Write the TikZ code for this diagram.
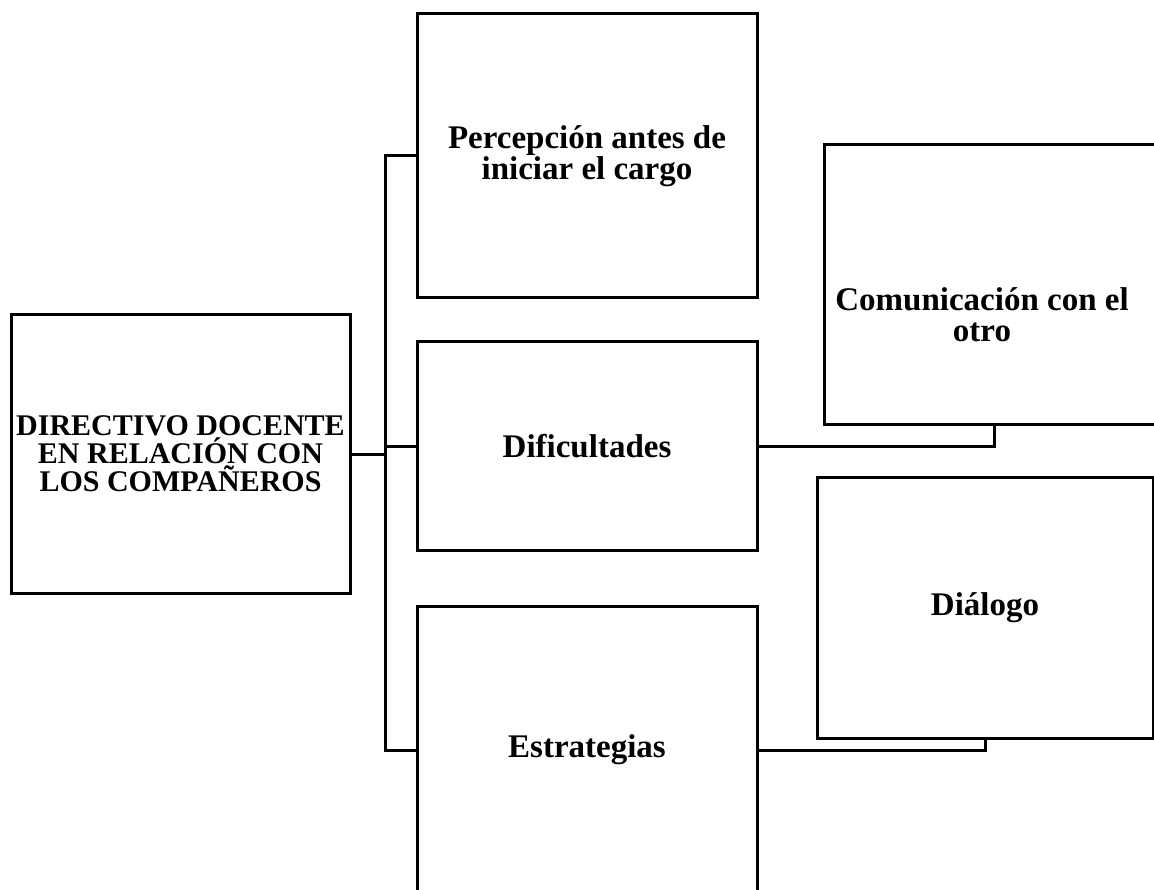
\documentclass[tikz,border=0pt]{standalone}
\usepackage{fontspec}
\setmainfont{Liberation Serif}
\usetikzlibrary{calc}
\begin{document}
\begin{tikzpicture}[x=1pt,y=-1pt,
  box/.style={draw=black, line width=3pt, fill=white, rectangle, inner sep=0pt, align=center,
    font=\bfseries\fontsize{33}{31}\selectfont},
  link/.style={draw=black, line width=3pt},
  txt/.style={align=center, inner sep=0pt, font=\bfseries\fontsize{33}{31}\selectfont}]
\useasboundingbox (0,0) rectangle (1154,890);
\clip (0,0) rectangle (1154,890);
\fill[white] (0,0) rectangle (1154,890);

% central topic
\node[box, minimum width=339pt, minimum height=279pt,
  font=\bfseries\fontsize{30}{28}\selectfont] (main) at (180.5,454)
  {DIRECTIVO DOCENTE\\EN RELACIÓN CON\\LOS COMPAÑEROS};

% first level
\node[box, minimum width=340pt, minimum height=284pt] (perc) at (587,156)
  {Percepción antes de\\iniciar el cargo};
\node[box, minimum width=340pt, minimum height=208pt] (dif) at (587,446) {Dificultades};
\node[box, minimum width=340pt, minimum height=288pt] (est) at (587,750) {Estrategias};

% second level
\node[box, minimum width=340pt, minimum height=280pt] (com) at (994,285) {};
\node[txt] (comtxt) at (982,315) {Comunicación con el\\otro};
\node[box, minimum width=336pt, minimum height=261pt] (dia) at (985,607.5) {Diálogo};

% connectors
\coordinate (j) at ($(main.east)+(34,0)$);
\draw[link] (main.east) -- (j);
\draw[link] (perc.west) -- (perc.west -| j) -- (est.west -| j) -- (est.west);
\draw[link] (dif.west) -- (dif.west -| j);
\draw[link] (dif.east) -| (com.south);
\draw[link] (est.east) -| (dia.south);
\end{tikzpicture}
\end{document}
